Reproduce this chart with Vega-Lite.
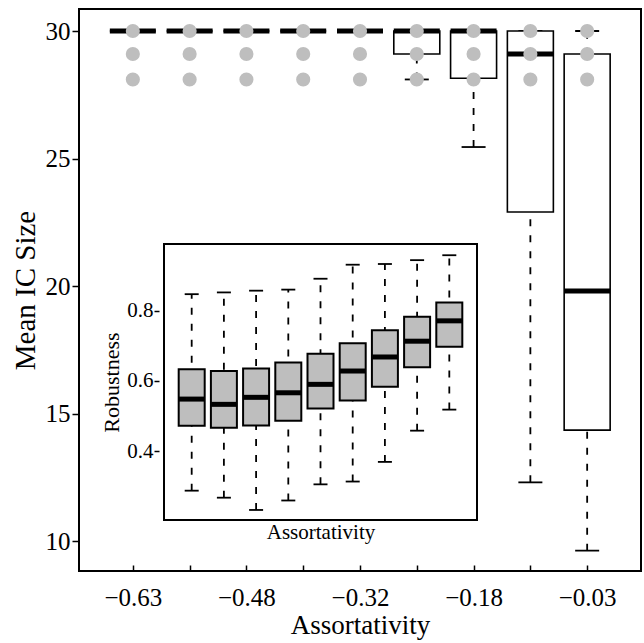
{
  "$schema": "https://vega.github.io/schema/vega-lite/v6.json",
  "width": 562,
  "height": 562,
  "autosize": {"type": "none"},
  "padding": {"left": 79, "top": 9, "right": 3, "bottom": 72},
  "background": "white",
  "config": {
    "font": "Liberation Serif",
    "view": {"stroke": "black", "strokeWidth": 2},
    "axis": {
      "labelFont": "Liberation Serif",
      "titleFont": "Liberation Serif",
      "titleFontWeight": "normal",
      "labelColor": "black",
      "titleColor": "black",
      "tickColor": "black",
      "domainColor": "black",
      "grid": false,
      "labelOverlap": false,
      "labelFlush": false,
      "labelBound": false
    }
  },
  "datasets": {
    "main": [
      {"i": 1, "a": "-0.63", "lo": 30, "q1": 30, "med": 30, "q3": 30, "hi": 30},
      {"i": 2, "a": "-0.555", "lo": 30, "q1": 30, "med": 30, "q3": 30, "hi": 30},
      {"i": 3, "a": "-0.48", "lo": 30, "q1": 30, "med": 30, "q3": 30, "hi": 30},
      {"i": 4, "a": "-0.40", "lo": 30, "q1": 30, "med": 30, "q3": 30, "hi": 30},
      {"i": 5, "a": "-0.32", "lo": 30, "q1": 30, "med": 30, "q3": 30, "hi": 30},
      {"i": 6, "a": "-0.25", "lo": 28.1, "q1": 29.1, "med": 30, "q3": 30, "hi": 30},
      {"i": 7, "a": "-0.18", "lo": 25.45, "q1": 28.15, "med": 30, "q3": 30, "hi": 30},
      {"i": 8, "a": "-0.105", "lo": 12.3, "q1": 22.9, "med": 29.1, "q3": 30, "hi": 30},
      {"i": 9, "a": "-0.03", "lo": 9.62, "q1": 14.35, "med": 19.8, "q3": 29.1, "hi": 30}
    ],
    "dots": [
      {"i": 1, "v": 30}, {"i": 1, "v": 29.1}, {"i": 1, "v": 28.1},
      {"i": 2, "v": 30}, {"i": 2, "v": 29.1}, {"i": 2, "v": 28.1},
      {"i": 3, "v": 30}, {"i": 3, "v": 29.1}, {"i": 3, "v": 28.1},
      {"i": 4, "v": 30}, {"i": 4, "v": 29.1}, {"i": 4, "v": 28.1},
      {"i": 5, "v": 30}, {"i": 5, "v": 29.1}, {"i": 5, "v": 28.1},
      {"i": 6, "v": 30}, {"i": 6, "v": 29.1}, {"i": 6, "v": 28.1},
      {"i": 7, "v": 30}, {"i": 7, "v": 29.1}, {"i": 7, "v": 28.1},
      {"i": 8, "v": 30}, {"i": 8, "v": 29.1}, {"i": 8, "v": 28.1},
      {"i": 9, "v": 30}, {"i": 9, "v": 29.1}, {"i": 9, "v": 28.1}
    ],
    "inset": [
      {"i": 1, "lo": 0.287, "q1": 0.472, "med": 0.548, "q3": 0.633, "hi": 0.847},
      {"i": 2, "lo": 0.267, "q1": 0.466, "med": 0.533, "q3": 0.628, "hi": 0.852},
      {"i": 3, "lo": 0.232, "q1": 0.473, "med": 0.553, "q3": 0.635, "hi": 0.857},
      {"i": 4, "lo": 0.259, "q1": 0.486, "med": 0.566, "q3": 0.652, "hi": 0.860},
      {"i": 5, "lo": 0.305, "q1": 0.521, "med": 0.590, "q3": 0.677, "hi": 0.891},
      {"i": 6, "lo": 0.313, "q1": 0.544, "med": 0.628, "q3": 0.707, "hi": 0.931},
      {"i": 7, "lo": 0.369, "q1": 0.583, "med": 0.668, "q3": 0.744, "hi": 0.933},
      {"i": 8, "lo": 0.458, "q1": 0.639, "med": 0.713, "q3": 0.783, "hi": 0.944},
      {"i": 9, "lo": 0.518, "q1": 0.697, "med": 0.771, "q3": 0.823, "hi": 0.958}
    ],
    "frame": [{"x0": 0.14, "x1": 9.86, "y0": 0.2034, "y1": 0.99}]
  },
  "layer": [
    {
      "layer": [
        {
          "data": {"name": "main"},
          "mark": {"type": "rule", "strokeDash": [7, 9], "strokeWidth": 1.8, "color": "black"},
          "encoding": {
            "x": {
              "field": "i", "type": "quantitative",
              "scale": {"domain": [0.14, 9.86], "nice": false, "zero": false},
              "axis": {
                "orient": "bottom",
                "title": "Assortativity",
                "values": [1, 2, 3, 4, 5, 6, 7, 8, 9],
                "labelExpr": "datum.value == 1 ? '−0.63' : datum.value == 3 ? '−0.48' : datum.value == 5 ? '−0.32' : datum.value == 7 ? '−0.18' : datum.value == 9 ? '−0.03' : ''",
                "domain": false,
                "tickSize": -6,
                "tickWidth": 1.5,
                "labelPadding": 20,
                "labelFontSize": 25,
                "titleFontSize": 27,
                "titlePadding": 2
              }
            },
            "y": {
              "field": "lo", "type": "quantitative",
              "scale": {"domain": [8.824, 30.863], "nice": false, "zero": false},
              "axis": {
                "orient": "left",
                "title": "Mean IC Size",
                "values": [10, 15, 20, 25, 30],
                "domain": false,
                "tickSize": 7,
                "tickWidth": 1.5,
                "labelPadding": 2,
                "labelFontSize": 25,
                "titleFontSize": 29,
                "titlePadding": 5
              }
            },
            "y2": {"field": "hi"}
          }
        },
        {
          "data": {"name": "main"},
          "mark": {"type": "tick", "orient": "horizontal", "size": 24, "thickness": 1.8, "color": "black", "opacity": 1},
          "encoding": {
            "x": {"field": "i", "type": "quantitative"},
            "y": {"field": "lo", "type": "quantitative"}
          }
        },
        {
          "data": {"name": "main"},
          "mark": {"type": "tick", "orient": "horizontal", "size": 24, "thickness": 1.8, "color": "black", "opacity": 1},
          "encoding": {
            "x": {"field": "i", "type": "quantitative"},
            "y": {"field": "hi", "type": "quantitative"}
          }
        },
        {
          "data": {"name": "main"},
          "mark": {"type": "bar", "orient": "vertical", "size": 46, "fill": "white", "stroke": "black", "strokeWidth": 1.6},
          "encoding": {
            "x": {"field": "i", "type": "quantitative"},
            "y": {"field": "q1", "type": "quantitative"},
            "y2": {"field": "q3"}
          }
        },
        {
          "data": {"name": "main"},
          "mark": {"type": "tick", "orient": "horizontal", "size": 46, "thickness": 5, "color": "black", "opacity": 1},
          "encoding": {
            "x": {"field": "i", "type": "quantitative"},
            "y": {"field": "med", "type": "quantitative"}
          }
        },
        {
          "data": {"name": "dots"},
          "mark": {"type": "circle", "size": 200, "color": "#bebebe", "opacity": 1},
          "encoding": {
            "x": {"field": "i", "type": "quantitative"},
            "y": {"field": "v", "type": "quantitative"}
          }
        }
      ]
    },
    {
      "layer": [
        {
          "data": {"name": "frame"},
          "mark": {"type": "rect", "fill": "white", "stroke": "black", "strokeWidth": 2},
          "encoding": {
            "x": {
              "field": "x0", "type": "quantitative",
              "scale": {"domain": [0.14, 9.86], "range": [80, 403], "nice": false, "zero": false},
              "axis": {
                "orient": "bottom",
                "offset": -51,
                "title": "Assortativity",
                "values": [1, 2, 3, 4, 5, 6, 7, 8, 9],
                "labels": false,
                "domain": false,
                "tickSize": -5,
                "tickWidth": 1.5,
                "titleFontSize": 21,
                "titlePadding": 1
              }
            },
            "x2": {"field": "x1"},
            "y": {
              "field": "y0", "type": "quantitative",
              "scale": {"domain": [0.2034, 0.99], "range": [511, 235], "nice": false, "zero": false},
              "axis": {
                "orient": "left",
                "offset": -80,
                "title": "Robustness",
                "values": [0.4, 0.6, 0.8],
                "format": ".1f",
                "domain": false,
                "tickSize": 5,
                "tickWidth": 1.5,
                "labelPadding": 1,
                "labelFontSize": 21,
                "titleFontSize": 22,
                "titlePadding": 3
              }
            },
            "y2": {"field": "y1"}
          }
        },
        {
          "data": {"name": "inset"},
          "mark": {"type": "rule", "strokeDash": [7, 9], "strokeWidth": 1.8, "color": "black"},
          "encoding": {
            "x": {"field": "i", "type": "quantitative"},
            "y": {"field": "lo", "type": "quantitative"},
            "y2": {"field": "hi"}
          }
        },
        {
          "data": {"name": "inset"},
          "mark": {"type": "tick", "orient": "horizontal", "size": 14, "thickness": 1.8, "color": "black", "opacity": 1},
          "encoding": {
            "x": {"field": "i", "type": "quantitative"},
            "y": {"field": "lo", "type": "quantitative"}
          }
        },
        {
          "data": {"name": "inset"},
          "mark": {"type": "tick", "orient": "horizontal", "size": 14, "thickness": 1.8, "color": "black", "opacity": 1},
          "encoding": {
            "x": {"field": "i", "type": "quantitative"},
            "y": {"field": "hi", "type": "quantitative"}
          }
        },
        {
          "data": {"name": "inset"},
          "mark": {"type": "bar", "orient": "vertical", "size": 26, "fill": "#bebebe", "stroke": "black", "strokeWidth": 2},
          "encoding": {
            "x": {"field": "i", "type": "quantitative"},
            "y": {"field": "q1", "type": "quantitative"},
            "y2": {"field": "q3"}
          }
        },
        {
          "data": {"name": "inset"},
          "mark": {"type": "tick", "orient": "horizontal", "size": 26, "thickness": 5, "color": "black", "opacity": 1},
          "encoding": {
            "x": {"field": "i", "type": "quantitative"},
            "y": {"field": "med", "type": "quantitative"}
          }
        }
      ]
    }
  ],
  "resolve": {
    "scale": {"x": "independent", "y": "independent"},
    "axis": {"x": "independent", "y": "independent"}
  }
}
